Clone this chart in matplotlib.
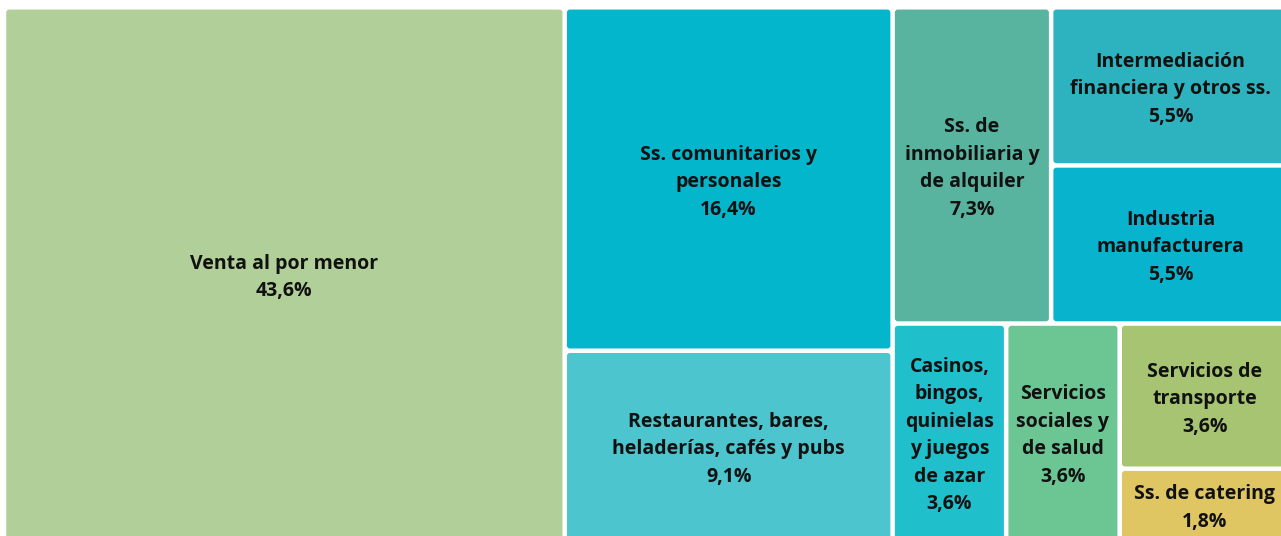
import numpy as np
import matplotlib.pyplot as plt
from matplotlib.patches import FancyBboxPatch

# datos: peso de cada sector (%)
sectores = ['Venta al por menor',
            'Ss. comunitarios y\npersonales',
            'Restaurantes, bares,\nheladerías, cafés y pubs',
            'Ss. de\ninmobiliaria y\nde alquiler',
            'Intermediación\nfinanciera y otros ss.',
            'Industria\nmanufacturera',
            'Casinos,\nbingos,\nquinielas\ny juegos\nde azar',
            'Servicios\nsociales y\nde salud',
            'Servicios de\ntransporte',
            'Ss. de catering']
valores = [43.6, 16.4, 9.1, 7.3, 5.5, 5.5, 3.6, 3.6, 3.6, 1.8]
colores = ['#b1cf99', '#03b6cb', '#4cc5cf', '#58b39f', '#2cb3bf',
           '#08b4cd', '#1fbfcc', '#6cc694', '#a6c472', '#e0c563']

PHI = (1 + 5 ** 0.5) / 2


def binario(vals, x0, y0, x1, y1):
    # particion binaria dentro de una fila
    if len(vals) == 1:
        return [(x0, y0, x1, y1)]
    total = sum(vals)
    sums = np.cumsum(vals)
    obj = total / 2
    k = int(np.searchsorted(sums, obj))
    if k > 0 and (obj - sums[k - 1]) < (sums[k] - obj):
        k -= 1
    k = min(k, len(vals) - 2)
    izq = sums[k]
    if (x1 - x0) > (y1 - y0):
        xk = x0 + (x1 - x0) * izq / total
        return binario(vals[:k + 1], x0, y0, xk, y1) + binario(vals[k + 1:], xk, y0, x1, y1)
    yk = y0 + (y1 - y0) * izq / total
    return binario(vals[:k + 1], x0, y0, x1, yk) + binario(vals[k + 1:], x0, yk, x1, y1)


def squarify(vals, x0, y0, x1, y1):
    celdas = []
    resto = sum(vals)
    n = len(vals)
    i0 = 0
    while i0 < n:
        dx, dy = x1 - x0, y1 - y0
        s = vals[i0]
        vmin = vmax = s
        alpha = max(dy / dx, dx / dy) / (resto * PHI)
        beta = s * s * alpha
        mejor = max(vmax / beta, beta / vmin)
        i1 = i0 + 1
        while i1 < n:
            v = vals[i1]
            beta = (s + v) ** 2 * alpha
            r = max(max(vmax, v) / beta, beta / min(vmin, v))
            if r > mejor:
                break
            s += v
            vmin, vmax, mejor = min(vmin, v), max(vmax, v), r
            i1 += 1
        if dx < dy:
            yk = y0 + dy * s / resto
            celdas += binario(vals[i0:i1], x0, y0, x1, yk)
            y0 = yk
        else:
            xk = x0 + dx * s / resto
            celdas += binario(vals[i0:i1], x0, y0, xk, y1)
            x0 = xk
        resto -= s
        i0 = i1
    return celdas


fig = plt.figure(figsize=(12.81, 5.36), dpi=100)
ax = fig.add_axes([0, 0, 1, 1])
ax.set_xlim(0, 1281)
ax.set_ylim(536, 0)
ax.axis('off')

celdas = squarify(valores, 4, 7.3, 1290, 541.3)
g = 2.25
for (x0, y0, x1, y1), nombre, v, c in zip(celdas, sectores, valores, colores):
    ax.add_patch(FancyBboxPatch((x0 + g, y0 + g), x1 - x0 - 2 * g, y1 - y0 - 2 * g,
                                boxstyle='round,pad=0,rounding_size=3',
                                facecolor=c, edgecolor='none'))
    etiqueta = nombre + '\n' + f'{v:.1f}'.replace('.', ',') + '%'
    ax.text((x0 + x1) / 2, (y0 + y1) / 2 + 3, etiqueta, ha='center', va='center',
            multialignment='center', fontsize=14, fontweight='bold',
            family=['Open Sans', 'DejaVu Sans'], color='#111111', linespacing=1.5)

fig.savefig('out.png', dpi=100)
